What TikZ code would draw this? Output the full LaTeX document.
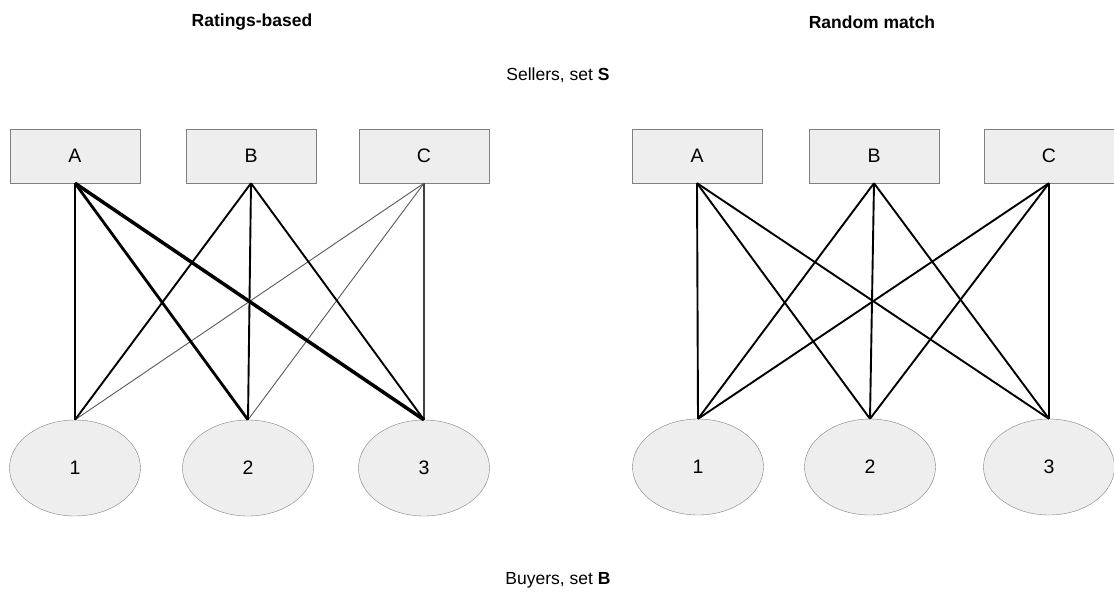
\documentclass[tikz,border=0pt]{standalone}
\usepackage{fontspec}
\setmainfont{Liberation Sans}
\usetikzlibrary{shapes.geometric}

\definecolor{boxfill}{HTML}{EEEEEE}
\definecolor{boxline}{HTML}{808080}

\begin{document}
\begin{tikzpicture}[x=1pt, y=-1pt,
    every node/.style={font=\fontsize{17.5}{21}\selectfont},
    seller/.style={draw=boxline, fill=boxfill, rectangle, minimum width=130pt, minimum height=54pt, inner sep=0pt, font=\fontsize{19.5}{23}\selectfont},
    buyer/.style={draw=boxline, fill=boxfill, ellipse, minimum width=131pt, minimum height=96pt, inner sep=0pt, font=\fontsize{19.5}{23}\selectfont},
    strong/.style={line width=2.8pt},
    strongest/.style={line width=3.5pt},
    normal/.style={line width=1.9pt},
    weak/.style={line width=0.9pt, black!65},
    faint/.style={line width=1.2pt, black!75}]
      \useasboundingbox (0,0) rectangle (1114,597);

      % titles and sets
      \node[font=\fontsize{17.5}{21}\selectfont\bfseries] (tleft) at (252,22) {Ratings-based};
      \node[font=\fontsize{17.5}{21}\selectfont\bfseries] (tright) at (872,22) {Random match};
      \node (sellers) at (558,75) {Sellers, set \textbf{S}};
      \node (buyers) at (558,580) {Buyers, set \textbf{B}};

      % ratings-based
      \node[seller] (lA) at (75,156) {A};
      \node[seller] (lB) at (251,156) {B};
      \node[seller] (lC) at (424,156) {C};
      \node[buyer] (l1) at (75,468) {1};
      \node[buyer] (l2) at (248,468) {2};
      \node[buyer] (l3) at (424,468) {3};

      \draw[faint] (lC.south) -- (l3.north);
      \draw[weak] (lC.south) -- (l1.north);
      \draw[weak] (lC.south) -- (l2.north);
      \draw[normal] (lB.south) -- (l1.north);
      \draw[normal] (lB.south) -- (l2.north);
      \draw[normal] (lB.south) -- (l3.north);
      \draw[strong] (lA.south) -- (l1.north);
      \draw[strong] (lA.south) -- (l2.north);
      \draw[strongest] (lA.south) -- (l3.north);

      % random match
      \node[seller] (rA) at (697,156) {A};
      \node[seller] (rB) at (874,156) {B};
      \node[seller] (rC) at (1049,156) {C};
      \node[buyer] (r1) at (698,467) {1};
      \node[buyer] (r2) at (870,467) {2};
      \node[buyer] (r3) at (1049,467) {3};

      \draw[normal] (rA.south) -- (r1.north);
      \draw[normal] (rA.south) -- (r2.north);
      \draw[normal] (rA.south) -- (r3.north);
      \draw[normal] (rB.south) -- (r1.north);
      \draw[normal] (rB.south) -- (r2.north);
      \draw[normal] (rB.south) -- (r3.north);
      \draw[normal] (rC.south) -- (r1.north);
      \draw[normal] (rC.south) -- (r2.north);
      \draw[normal] (rC.south) -- (r3.north);
    \end{tikzpicture}
\end{document}
